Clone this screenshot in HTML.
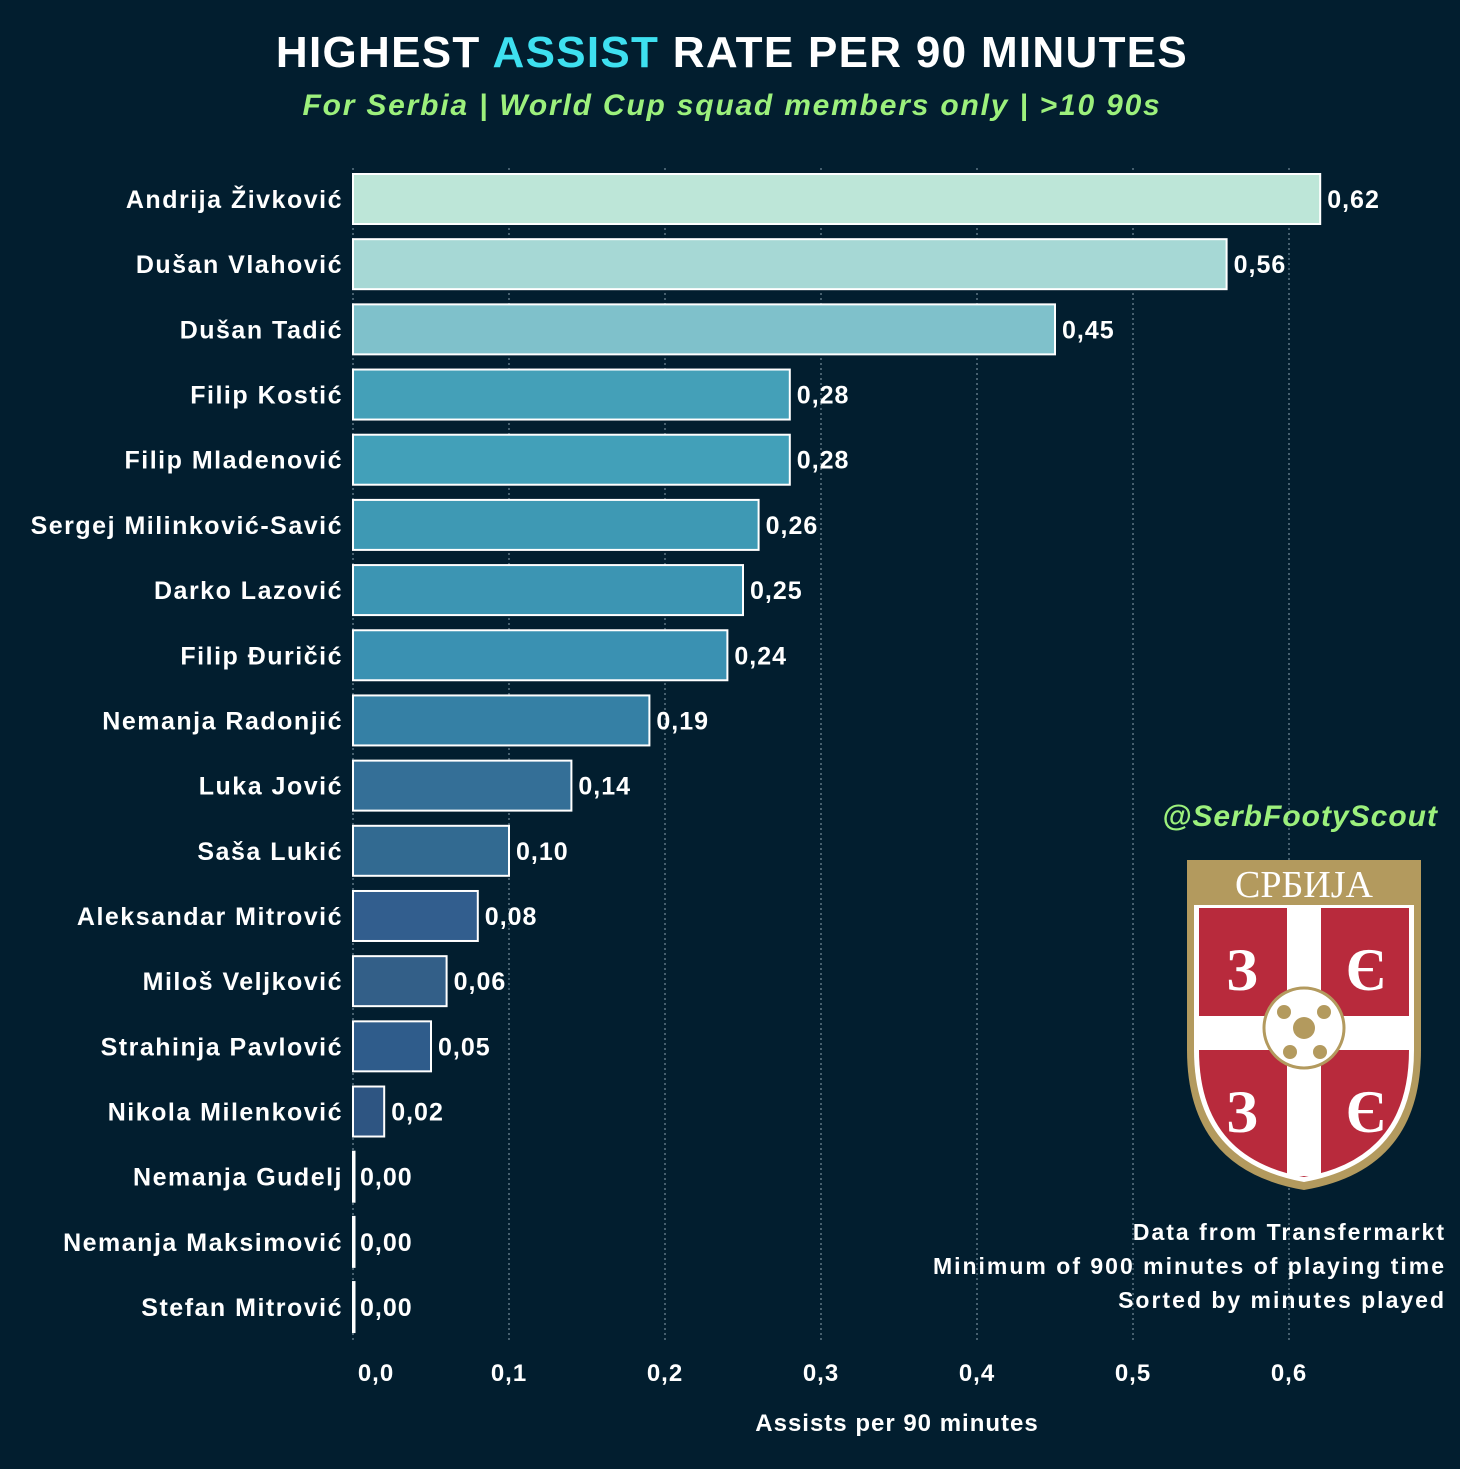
<!DOCTYPE html>
<html><head><meta charset="utf-8"><style>
html,body{margin:0;padding:0;background:#021e2f;}
svg{display:block;font-family:"Liberation Sans",sans-serif;font-weight:bold;}
</style></head><body>
<svg id="chart" width="1460" height="1469" viewBox="0 0 1460 1469">
<rect width="1460" height="1469" fill="#021e2f"/>
<text x="732" y="67" text-anchor="middle" font-size="44" letter-spacing="1.3" fill="#ffffff">HIGHEST <tspan fill="#3ee0f0">ASSIST</tspan> RATE PER 90 MINUTES</text>
<text x="732" y="115" text-anchor="middle" font-size="30" letter-spacing="1.8" font-style="italic" fill="#9cf07c">For Serbia | World Cup squad members only  | &gt;10 90s</text>
<g id="grid"></g>
<g id="bars"></g>
<g id="ticks"></g>
<text x="897" y="1431" text-anchor="middle" font-size="24" letter-spacing="1" fill="#ffffff">Assists per 90 minutes</text>
<text x="1438" y="826" text-anchor="end" font-size="30" letter-spacing="1" font-style="italic" fill="#9cf07c">@SerbFootyScout</text>
<g>
<path d="M1187,860 H1421 V1050 Q1421,1170 1304,1190 Q1187,1170 1187,1050 Z" fill="#b39a5e"/>
<path d="M1194,905 H1414 V1050 Q1414,1162 1304,1182 Q1194,1162 1194,1050 Z" fill="#ffffff"/>
<path d="M1199,908 H1409 V1050 Q1409,1158 1304,1177 Q1199,1158 1199,1050 Z" fill="#b82a3c"/>
<rect x="1287" y="908" width="34" height="268" fill="#ffffff"/>
<rect x="1199" y="1016" width="210" height="34" fill="#ffffff"/>
<circle cx="1304" cy="1028" r="40" fill="#ffffff" stroke="#b39a5e" stroke-width="3"/>
<circle cx="1304" cy="1028" r="11" fill="#b39a5e"/>
<circle cx="1284" cy="1012" r="7" fill="#b39a5e"/><circle cx="1324" cy="1012" r="7" fill="#b39a5e"/>
<circle cx="1290" cy="1052" r="7" fill="#b39a5e"/><circle cx="1320" cy="1052" r="7" fill="#b39a5e"/>
<text x="1304" y="897" text-anchor="middle" font-family="Liberation Serif,serif" font-weight="normal" font-size="38" fill="#ffffff">СРБИЈА</text>
<text x="1242" y="990" text-anchor="middle" font-family="Liberation Serif,serif" font-size="60" fill="#ffffff">З</text>
<text x="1366" y="990" text-anchor="middle" font-family="Liberation Serif,serif" font-size="60" fill="#ffffff">Є</text>
<text x="1242" y="1132" text-anchor="middle" font-family="Liberation Serif,serif" font-size="60" fill="#ffffff">З</text>
<text x="1366" y="1132" text-anchor="middle" font-family="Liberation Serif,serif" font-size="60" fill="#ffffff">Є</text>
</g>
<g font-size="23" letter-spacing="2" fill="#ffffff" text-anchor="end">
<text x="1446" y="1240">Data from Transfermarkt</text>
<text x="1446" y="1274">Minimum of 900 minutes of playing time</text>
<text x="1446" y="1308">Sorted by minutes played</text>
</g>
</svg>
<script>
const players = ["Andrija Živković","Dušan Vlahović","Dušan Tadić","Filip Kostić","Filip Mladenović","Sergej Milinković-Savić","Darko Lazović","Filip Đuričić","Nemanja Radonjić","Luka Jović","Saša Lukić","Aleksandar Mitrović","Miloš Veljković","Strahinja Pavlović","Nikola Milenković","Nemanja Gudelj","Nemanja Maksimović","Stefan Mitrović"];
const values = [0.62,0.56,0.45,0.28,0.28,0.26,0.25,0.24,0.19,0.14,0.10,0.08,0.06,0.05,0.02,0.00,0.00,0.00];
const tickValues = [0,0.1,0.2,0.3,0.4,0.5,0.6];
const tickLabels = ["0,0","0,1","0,2","0,3","0,4","0,5","0,6"];
const barColors = ["#bde6d8","#a6d8d5","#7fc1cb","#44a0b8","#42a0b9","#3e99b4","#3c95b3","#3a91b2","#3580a5","#346f97","#326a91","#325e8e","#335f88","#2f5c8b","#2e5582","#2e5582","#2e5582","#2e5582"];

const NS="http://www.w3.org/2000/svg";
const x0=353, pxPerUnit=1560, y0=199, pitch=65.18, barH=50;
function xScale(v){return x0+v*pxPerUnit;}
function yScale(i){return y0+i*pitch;}
function mk(tag,attrs,parent){const e=document.createElementNS(NS,tag);for(const k in attrs)e.setAttribute(k,attrs[k]);parent.appendChild(e);return e;}
const grid=document.getElementById('grid'), bars=document.getElementById('bars'), ticks=document.getElementById('ticks');
tickValues.forEach((t,i)=>{
  const x=xScale(t);
  const ln=mk('line',{x1:x,x2:x,y1:168,y2:1340,stroke:'#8aa0ad','stroke-width':1,'stroke-dasharray':'2,3'},grid);
  
  
  const tx=mk('text',{x:i===0?x+23:x,y:1381,'text-anchor':'middle','font-size':24,'letter-spacing':1,fill:'#ffffff'},ticks);
  tx.textContent=tickLabels[i];
  
  
});
players.forEach((p,i)=>{
  const cy=yScale(i), v=values[i], w=Math.max(v*pxPerUnit,1.5);
  const r=mk('rect',{x:x0,y:cy-barH/2,width:w,height:barH,fill:barColors[i],stroke:'#ffffff','stroke-width':2},bars);
  
  
  const lab=mk('text',{x:343,y:cy+9,'text-anchor':'end','font-size':25,'letter-spacing':1.5,fill:'#ffffff'},bars);
  lab.textContent=p;
  
  
  const val=mk('text',{x:xScale(v)+7,y:cy+9,'font-size':25,'letter-spacing':1,fill:'#ffffff'},bars);
  val.textContent=v.toFixed(2).replace('.',',');
  
  
});
</script>
</body></html>
